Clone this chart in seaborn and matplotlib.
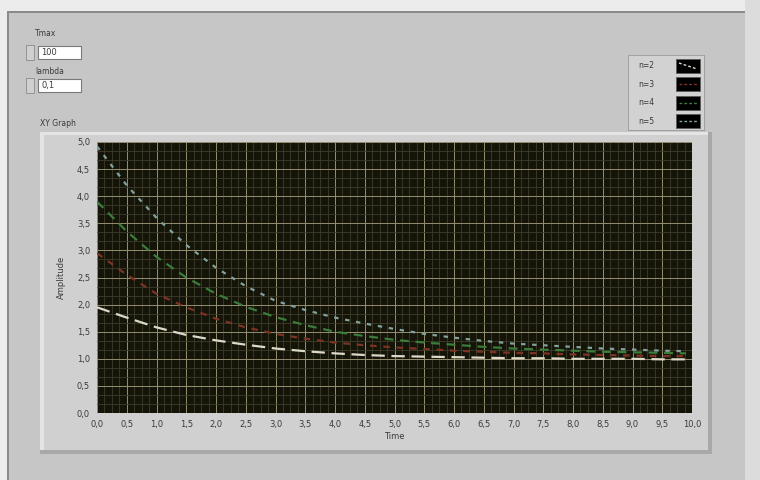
import numpy as np
import pandas as pd
import matplotlib
matplotlib.use("Agg")
import matplotlib.pyplot as plt
from matplotlib.patches import Rectangle
from matplotlib.ticker import MultipleLocator, FuncFormatter
import seaborn as sns

time = [0.0, 0.5, 1.0, 1.5, 2.0, 2.5, 3.0, 3.5, 4.0, 4.5, 5.0,
        5.5, 6.0, 6.5, 7.0, 7.5, 8.0, 8.5, 9.0, 9.5, 9.9]
n2 = [1.95, 1.76, 1.58, 1.44, 1.34, 1.26, 1.19, 1.14, 1.10, 1.07, 1.05,
      1.04, 1.03, 1.02, 1.01, 1.01, 1.00, 1.00, 1.00, 0.99, 0.99]
n3 = [2.95, 2.55, 2.20, 1.95, 1.74, 1.58, 1.46, 1.37, 1.30, 1.25, 1.21,
      1.18, 1.15, 1.13, 1.11, 1.10, 1.08, 1.07, 1.06, 1.05, 1.05]
n4 = [3.90, 3.35, 2.88, 2.50, 2.20, 1.96, 1.77, 1.62, 1.50, 1.42, 1.35,
      1.30, 1.26, 1.22, 1.19, 1.17, 1.15, 1.13, 1.12, 1.11, 1.10]
n5 = [4.92, 4.20, 3.60, 3.10, 2.68, 2.34, 2.07, 1.90, 1.76, 1.65, 1.55,
      1.46, 1.39, 1.33, 1.28, 1.25, 1.22, 1.19, 1.17, 1.15, 1.14]
labels = ["n=2", "n=3", "n=4", "n=5"]
colors = ["#ddd9c8", "#7c3324", "#3a7c3a", "#82a29c"]
dashes = [(6, 3), (3, 3), (4, 3), (2, 3)]

tmax = "100"
lam = "0,1"

df = pd.DataFrame({"Time": time * 4,
                   "Amplitude": n2 + n3 + n4 + n5,
                   "n": sum([[l] * len(time) for l in labels], [])})

sns.set_style("white")
plt.rcParams['font.family'] = ['DejaVu Sans']
txt = "#3a3a3a"

fig = plt.figure(figsize=(7.6, 4.8), dpi=100)
fig.patch.set_facecolor("#c6c6c6")
W, H = 760.0, 480.0

def rect(x0, y0, x1, y1, **kw):
    # pixel box (top-left origin) -> figure rectangle, kept behind the axes
    fig.patches.append(Rectangle((x0 / W, 1 - y1 / H), (x1 - x0) / W, (y1 - y0) / H,
                                 transform=fig.transFigure, figure=fig,
                                 zorder=-10, **kw))

# window chrome
rect(0, 0, 760, 11, facecolor="#ececec", edgecolor="none")
rect(0, 0, 8, 480, facecolor="#ececec", edgecolor="none")
rect(745, 0, 760, 480, facecolor="#dcdcdc", edgecolor="none")
rect(8, 11, 745, 12.5, facecolor="#8a8a8a", edgecolor="none")
rect(7, 11, 8.5, 480, facecolor="#8a8a8a", edgecolor="none")

# graph frame with bevel
rect(40, 132, 712, 454, facecolor="#d0d0d0", edgecolor="none")
rect(40, 132, 712, 135, facecolor="#e4e4e4", edgecolor="none")
rect(40, 132, 44, 454, facecolor="#e4e4e4", edgecolor="none")
rect(40, 450, 712, 454, facecolor="#a8a8a8", edgecolor="none")
rect(708, 132, 712, 454, facecolor="#a8a8a8", edgecolor="none")
fig.text(40 / W, 1 - 124 / H, "XY Graph", fontsize=5.5, color=txt, va="center")

# controls
for lbl, val, ly, by in [("Tmax", tmax, 34, 46), ("lambda", lam, 71, 79)]:
    fig.text(35 / W, 1 - ly / H, lbl, fontsize=5.5, color=txt, va="center")
    rect(38, by, 81, by + 13, facecolor="white", edgecolor="#7a7a7a", linewidth=0.8)
    rect(26, by - 1, 34, by + 14, facecolor="#d0d0d0", edgecolor="#8a8a8a", linewidth=0.6)
    fig.text(41 / W, 1 - (by + 6.5) / H, val, fontsize=6, color=txt, va="center")

# main plot
ax = fig.add_axes([97 / W, 1 - 413 / H, 595 / W, 271 / H])
ax.set_facecolor("#141409")
for i, lab in enumerate(labels):
    sns.lineplot(data=df[df["n"] == lab], x="Time", y="Amplitude", ax=ax,
                 color=colors[i], linewidth=1.6, zorder=3 + i)
    ax.lines[-1].set_dashes(dashes[i])

ax.set_xlim(0, 10)
ax.set_ylim(0, 5)
ax.xaxis.set_major_locator(MultipleLocator(0.5))
ax.yaxis.set_major_locator(MultipleLocator(0.5))
ax.xaxis.set_minor_locator(MultipleLocator(0.125))
ax.yaxis.set_minor_locator(MultipleLocator(0.5 / 3))
fmt = FuncFormatter(lambda v, p: f"{v:.1f}".replace(".", ","))
ax.xaxis.set_major_formatter(fmt)
ax.yaxis.set_major_formatter(fmt)
ax.grid(which="major", color="#958f70", linewidth=0.7, zorder=1)
ax.grid(which="minor", color="#3e3d2a", linewidth=0.6, zorder=1)
ax.set_axisbelow(True)
ax.tick_params(which="major", direction="out", length=3, width=0.6,
               labelsize=6, colors=txt, pad=2)
ax.tick_params(which="minor", length=0)
for s in ax.spines.values():
    s.set_visible(False)
ax.set_xlabel("Time", fontsize=6, color=txt, labelpad=2)
ax.set_ylabel("Amplitude", fontsize=6, color=txt, labelpad=8)

# legend panel
lax = fig.add_axes([628 / W, 1 - 130 / H, 76 / W, 75 / H])
lax.set_xlim(0, 76)
lax.set_ylim(75, 0)
lax.set_facecolor("#d2d2d2")
for s in lax.spines.values():
    s.set_color("#9a9a9a")
    s.set_linewidth(0.6)
lax.set_xticks([])
lax.set_yticks([])
for i, lab in enumerate(labels):
    yc = 11 + i * 18.5
    lax.text(10, yc, lab, fontsize=5.5, color=txt, va="center")
    lax.add_patch(Rectangle((48, yc - 7), 24, 14, facecolor="black",
                            edgecolor="#5a5a5a", linewidth=0.6))
    ln, = lax.plot([51, 69], [yc - 3, yc + 3] if i == 0 else [yc, yc],
                   color=colors[i], linewidth=1.0)
    ln.set_dashes((2, 1.5))

fig.savefig("out.png", dpi=100, facecolor=fig.get_facecolor())
